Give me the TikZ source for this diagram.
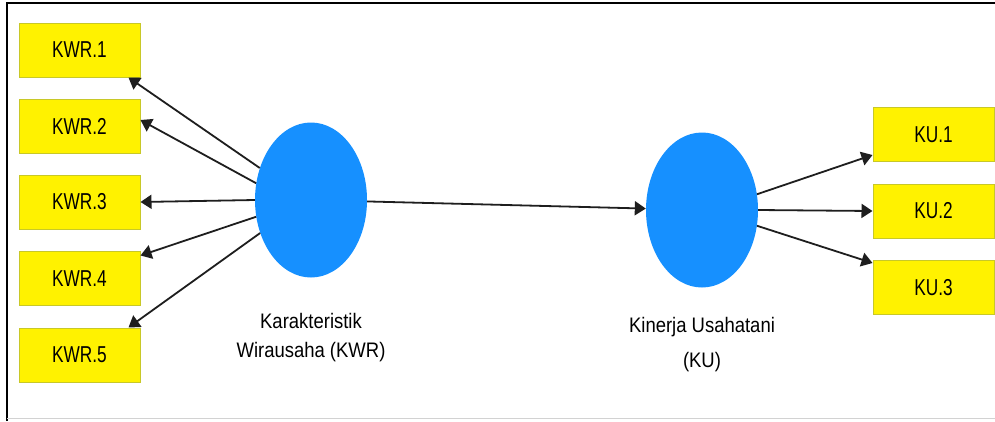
\documentclass[tikz,border=0pt]{standalone}
\usepackage{fontspec}
\setmainfont{Liberation Sans}[FakeStretch=0.88]
\newfontfamily\boxfont{Liberation Sans}[FakeStretch=0.75]
\usetikzlibrary{arrows.meta,shapes.geometric,calc}
\definecolor{latblue}{RGB}{22,144,255}
\definecolor{boxline}{RGB}{200,200,40}
\definecolor{arrowcol}{RGB}{30,30,30}
\begin{document}
\begin{tikzpicture}[x=1pt,y=-1pt,
  ind/.style={draw=boxline,fill=yellow,line width=1pt,minimum width=121pt,minimum height=54pt,inner sep=0pt,font=\boxfont\fontsize{23}{26}\selectfont},
  lat/.style={ellipse,fill=latblue,minimum width=112pt,minimum height=155pt,inner sep=0pt},
  lbl/.style={align=center,font=\fontsize{21}{29}\selectfont},
  arr/.style={line width=1.8pt,draw=arrowcol,-{Triangle[length=11pt,width=14pt]}}]
\useasboundingbox (0,0) rectangle (995,421);
\fill[white] (0,0) rectangle (995,421);
\draw[line width=2.5pt] (7,421) -- (7,3) -- (995,3);
\draw[gray!35,line width=1.5pt] (7,418.5) -- (995,418.5);

\node[ind] (k1) at (79.5,50) {KWR.1};
\node[ind] (k2) at (79.5,126) {KWR.2};
\node[ind] (k3) at (79.5,202) {KWR.3};
\node[ind] (k4) at (79.5,278.5) {KWR.4};
\node[ind] (k5) at (79.5,355) {KWR.5};

\node[lat] (kwr) at (311,200) {};
\node[lat] (ku) at (702,210) {};

\node[ind] (u1) at (933.5,134.5) {KU.1};
\node[ind] (u2) at (933.5,211) {KU.2};
\node[ind] (u3) at (933.5,287.5) {KU.3};

\node[lbl] (kwrl) at (311,337.5) {Karakteristik\\Wirausaha (KWR)};
\node[lbl] (kul) at (702,345) {Kinerja Usahatani\\[6pt](KU)};

\coordinate (t1) at ($(k1.south east)+(-12,0)$);
\coordinate (t2) at ($(k2.east)+(0,-6)$);
\coordinate (t3) at (k3.east);
\coordinate (t4) at ($(k4.east)+(0,-23)$);
\coordinate (t5) at ($(k5.north east)+(-12,0)$);

\draw[arr] (kwr.148) -- (t1);
\draw[arr] (kwr.163) -- (t2);
\draw[arr] (kwr.180) -- (t3);
\draw[arr] (kwr.197) -- (t4);
\draw[arr] (kwr.213) -- (t5);

\draw[arr] (kwr) -- (ku);

\coordinate (s1) at ($(u1.south west)+(0,-7)$);
\coordinate (s2) at (u2.west);
\coordinate (s3) at ($(u3.north west)+(0,3)$);

\draw[arr] (ku.16) -- (s1);
\draw[arr] (ku.0) -- (s2);
\draw[arr] (ku.-16) -- (s3);
\end{tikzpicture}
\end{document}
